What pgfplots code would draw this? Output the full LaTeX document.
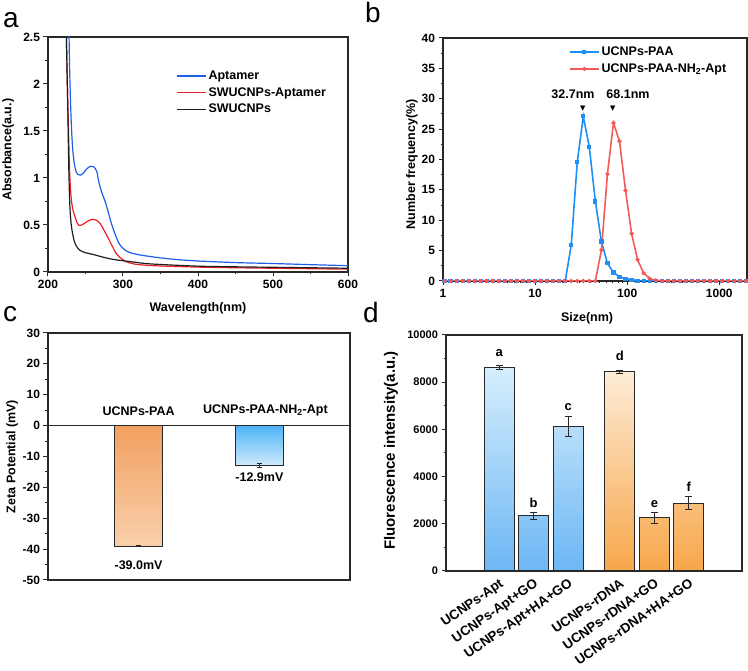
\documentclass[border=0pt]{standalone}
\usepackage{fontspec}
\setmainfont{Liberation Sans}
\newfontfamily\dejavu{DejaVu Sans}
\usepackage{pgfplots}
\usepackage{pgfplotstable}
\pgfplotsset{compat=1.18}

\definecolor{aBlue}{RGB}{31,95,230}
\definecolor{aRed}{RGB}{238,30,36}
\definecolor{aBlack}{RGB}{30,30,30}
\definecolor{bBlue}{RGB}{30,144,245}
\definecolor{bRed}{RGB}{242,90,90}
\definecolor{cOrTop}{RGB}{242,160,96}
\definecolor{cOrBot}{RGB}{249,208,172}
\definecolor{cBlTop}{RGB}{77,180,246}
\definecolor{cBlBot}{RGB}{208,234,252}
\definecolor{dBlTop}{RGB}{214,238,253}
\definecolor{dBlBot}{RGB}{108,183,244}
\definecolor{dOrTop}{RGB}{253,236,214}
\definecolor{dOrBot}{RGB}{247,166,74}
\definecolor{frame}{RGB}{40,40,40}

\newcommand{\fs}[1]{\fontsize{#1}{#1}\selectfont}

\pgfplotstableread{
x y
1.04 0
1.209 0
1.406 0
1.635 0
1.901 0
2.211 0
2.570 0
2.989 0
3.475 0
4.041 0
4.699 0
5.464 0
6.353 0
7.387 0
8.590 0
9.988 0
11.61 0
13.50 0
15.70 0
18.26 0
21.23 0
24.69 5.9
28.71 19.6
33.38 27.1
38.82 22.0
45.14 13.1
52.48 6.5
61.02 2.9
70.96 1.4
82.51 0.7
95.94 0.35
111.6 0.2
129.7 0.05
150.8 0
175.4 0
203.9 0
237.1 0
275.7 0
320.6 0
372.8 0
433.5 0
504.1 0
586.1 0
681.6 0
792.5 0
921.5 0
1071.5 0
1246 0
1449 0
1685 0
1959 0
}\paaTable

\pgfplotstableread{
x y
1.04 0
1.209 0
1.406 0
1.635 0
1.901 0
2.211 0
2.570 0
2.989 0
3.475 0
4.041 0
4.699 0
5.464 0
6.353 0
7.387 0
8.590 0
9.988 0
11.61 0
13.50 0
15.70 0
18.26 0
21.23 0
24.69 0
28.71 0
33.38 0
38.82 0
45.14 0
52.48 5.1
61.02 17.6
70.96 26.0
82.51 23.0
95.94 14.9
111.6 7.8
129.7 3.5
150.8 1.3
175.4 0.4
203.9 0.1
237.1 0
275.7 0
320.6 0
372.8 0
433.5 0
504.1 0
586.1 0
681.6 0
792.5 0
921.5 0
1071.5 0
1246 0
1449 0
1685 0
1959 0
}\aptTable

\pgfplotsset{
  panel/.style={
    scale only axis,
    axis line style={frame, line width=1.1pt},
    tick style={frame, line width=1pt},
    major tick length=4.5pt,
    minor tick length=2.5pt,
    tick align=outside,
    xtick pos=left, ytick pos=left,
    /pgf/number format/assume math mode=true,
    tick label style={font=\bfseries\fs{12}},
    label style={font=\bfseries\fs{12.5}},
    legend cell align=left,
    legend style={draw=none, fill=none, font=\bfseries\fs{12.5}, row sep=2.5pt, inner sep=0pt},
  },
}

\begin{document}
\begin{tikzpicture}
\useasboundingbox (0,0) rectangle (748pt,671pt);

% panel letters
\node[anchor=base west, inner sep=0pt, font=\fs{28}] at (3pt,643pt) {a};
\node[anchor=base west, inner sep=0pt, font=\fs{28}] at (365pt,648pt) {b};
\node[anchor=base west, inner sep=0pt, font=\fs{28}] at (3pt,349pt) {c};
\node[anchor=base west, inner sep=0pt, font=\fs{28}] at (363pt,348pt) {d};

% ---------------- panel a ----------------
\begin{axis}[panel, at={(48pt,399pt)}, anchor=south west,
  width=300pt, height=235pt,
  xmin=200, xmax=600, ymin=0, ymax=2.5,
  xtick={200,300,400,500,600}, ytick={0,0.5,1,1.5,2,2.5},
  minor x tick num=1, minor y tick num=1,
  xlabel={Wavelength(nm)}, ylabel={Absorbance(a.u.)},
  xlabel style={at={(axis description cs:0.5,-0.155)}, anchor=center},
  ylabel style={at={(axis description cs:-0.133,0.52)}, anchor=center},
  legend style={at={(0.427,0.865)}, anchor=north west},
  legend image code/.code={\draw[#1] (0pt,0pt) -- (29pt,0pt);},
]
\addplot[aBlue, line width=1.2pt, smooth, tension=0.5] coordinates {
(227.5,2.8) (228.5,2.3) (229.5,1.95) (230.5,1.7) (231.7,1.47) (233,1.30)
(234.8,1.17) (237,1.08) (239.5,1.04) (243,1.03) (247,1.05) (252,1.10)
(257,1.125) (261,1.12) (265,1.07) (268,0.95) (272,0.84) (277,0.73)
(286,0.48) (295,0.30) (304,0.226) (312,0.20) (325,0.178) (350,0.15)
(375,0.13) (400,0.117) (450,0.10) (500,0.09) (550,0.078) (600,0.067)};
\addlegendentry{Aptamer}
\addplot[aRed, line width=1.2pt, smooth, tension=0.5] coordinates {
(223.5,2.8) (224.5,2.5) (225.5,2.1) (226.5,1.75) (227.5,1.45) (228.5,1.15)
(229.5,0.95) (231,0.78) (233,0.67) (235.5,0.6) (238.5,0.53) (241.5,0.495)
(245,0.50) (250,0.525) (255,0.55) (260,0.56) (265,0.55) (270,0.51)
(275,0.44) (281.6,0.34) (286,0.27) (290.6,0.20) (296,0.155) (304,0.11)
(315,0.085) (330,0.072) (350,0.064) (400,0.052) (450,0.045) (500,0.04)
(550,0.035) (600,0.03)};
\addlegendentry{SWUCNPs-Aptamer}
\addplot[aBlack, line width=1.2pt, smooth, tension=0.5] coordinates {
(223.5,2.8) (224.5,2.5) (225.5,2.1) (226.5,1.7) (227.5,1.2) (228.5,0.85)
(229.5,0.65) (231,0.50) (233,0.40) (235,0.33) (237.5,0.28) (240,0.25)
(243.7,0.225) (250,0.205) (260,0.187) (270,0.165) (280,0.145) (290,0.13)
(300,0.12) (315,0.105) (330,0.09) (350,0.08) (400,0.062) (450,0.055)
(500,0.05) (550,0.045) (600,0.04)};
\addlegendentry{SWUCNPs}
\end{axis}

% ---------------- panel b ----------------
\begin{axis}[panel, at={(443pt,390pt)}, anchor=south west,
  width=304pt, height=243pt,
  xmode=log, xmin=1, xmax=2000, ymin=0, ymax=40,
  xtick={1,10,100,1000}, xticklabels={1,10,100,1000},
  minor xtick={2,3,4,5,6,7,8,9,20,30,40,50,60,70,80,90,200,300,400,500,600,700,800,900,2000},
  ytick={0,5,10,15,20,25,30,35,40}, minor y tick num=1,
  xlabel={Size(nm)}, ylabel={Number frequency(\%)},
  xlabel style={at={(axis description cs:0.474,-0.154)}, anchor=center},
  ylabel style={at={(axis description cs:-0.102,0.48)}, anchor=center},
  legend style={at={(0.414,0.972)}, anchor=north west},
  legend image code/.code={\draw[#1, mark repeat=2, mark phase=2] plot coordinates {(0pt,0pt) (14.5pt,0pt) (29pt,0pt)};},
]
\addplot[bBlue, line width=1.6pt, mark=square*, mark size=1.3pt] table[x=x,y=y] {\paaTable};
\addlegendentry{UCNPs-PAA}
\addplot[bRed, line width=1.6pt, mark=*, mark size=1.2pt] table[x=x,y=y] {\aptTable};
\addlegendentry{UCNPs-PAA-NH\textsubscript{2}-Apt}
\node[font=\bfseries\fs{12.5}] at (axis cs:25.8,30.8) {32.7nm};
\node[font=\bfseries\fs{12.5}] at (axis cs:102,30.8) {68.1nm};
\node[font=\dejavu\fs{7}, inner sep=0pt] at (axis cs:32.9,28.4) {▼};
\node[font=\dejavu\fs{7}, inner sep=0pt] at (axis cs:69.6,28.4) {▼};
\end{axis}

% ---------------- panel c ----------------
\begin{axis}[panel, at={(48pt,91pt)}, anchor=south west,
  width=302pt, height=247pt,
  xmin=0.25, xmax=2.75, ymin=-50, ymax=30,
  xtick=\empty, ytick={-50,-40,-30,-20,-10,0,10,20,30}, minor y tick num=1,
  ylabel={Zeta Potential (mV)},
  ylabel style={at={(axis description cs:-0.119,0.5)}, anchor=center},
]
\addplot[frame, line width=1pt] coordinates {(0.25,0) (2.75,0)};
\addplot[ybar, bar width=0.4, bar shift=0pt, draw=frame, line width=1pt,
  top color=cOrTop, bottom color=cOrBot] coordinates {(1,-39.0)};
\addplot[ybar, bar width=0.4, bar shift=0pt, draw=frame, line width=1pt,
  top color=cBlTop, bottom color=cBlBot] coordinates {(2,-12.9)};
\addplot[draw=none, mark=none, forget plot,
  error bars/.cd, y dir=both, y explicit,
  error bar style={frame, line width=0.9pt},
  error mark options={frame, line width=0.9pt, mark size=2.5pt, rotate=90}]
  coordinates {(1,-39.0) +- (0,0.15) (2,-12.9) +- (0,0.5)};
\node[font=\bfseries\fs{12.5}] at (axis cs:1,4.8) {UCNPs-PAA};
\node[font=\bfseries\fs{12.5}] at (axis cs:2.05,4.8) {UCNPs-PAA-NH\textsubscript{2}-Apt};
\node[font=\bfseries\fs{12.5}] at (axis cs:1,-45.2) {-39.0mV};
\node[font=\bfseries\fs{12.5}] at (axis cs:2,-16.8) {-12.9mV};
\end{axis}

% ---------------- panel d ----------------
\begin{axis}[panel, at={(446pt,100pt)}, anchor=south west,
  width=296pt, height=236pt,
  xmin=-0.54, xmax=8.04, ymin=0, ymax=10000,
  ytick={0,2000,4000,6000,8000,10000}, minor y tick num=1,
  scaled y ticks=false, /pgf/number format/1000 sep={},
  xtick={1,2,3,4.5,5.5,6.5},
  xticklabels={UCNPs-Apt,UCNPs-Apt+GO,UCNPs-Apt+HA+GO,UCNPs-rDNA,UCNPs-rDNA+GO,UCNPs-rDNA+HA+GO},
  xtick style={draw=none},
  x tick label style={rotate=35, anchor=north east, inner sep=1.5pt, font=\bfseries\fs{13.4}},
  y tick label style={font=\bfseries\fs{11}},
  ylabel={Fluorescence intensity(a.u.)},
  ylabel style={at={(axis description cs:-0.186,0.51)}, anchor=center, font=\bfseries\fs{15}},
]
\addplot[ybar, bar width=0.87, bar shift=0pt, draw=frame, line width=1pt,
  top color=dBlTop, bottom color=dBlBot] coordinates {(1,8614) (2,2343) (3,6114)};
\addplot[ybar, bar width=0.87, bar shift=0pt, draw=frame, line width=1pt,
  top color=dOrTop, bottom color=dOrBot] coordinates {(4.5,8445) (5.5,2258) (6.5,2869)};
\addplot[draw=none, mark=none, forget plot,
  error bars/.cd, y dir=both, y explicit,
  error bar style={frame, line width=1pt},
  error mark options={frame, line width=1pt, mark size=3.5pt, rotate=90}]
  coordinates {(1,8614) +- (0,80) (2,2343) +- (0,150) (3,6114) +- (0,424)
               (4.5,8445) +- (0,60) (5.5,2258) +- (0,225) (6.5,2869) +- (0,267)};
\node[font=\bfseries\fs{13}] at (axis cs:1,9250) {a};
\node[font=\bfseries\fs{13}] at (axis cs:2,2894) {b};
\node[font=\bfseries\fs{13}] at (axis cs:3,6936) {c};
\node[font=\bfseries\fs{13}] at (axis cs:4.5,9110) {d};
\node[font=\bfseries\fs{13}] at (axis cs:5.5,2839) {e};
\node[font=\bfseries\fs{13}] at (axis cs:6.5,3572) {f};
\end{axis}
\end{tikzpicture}
\end{document}
